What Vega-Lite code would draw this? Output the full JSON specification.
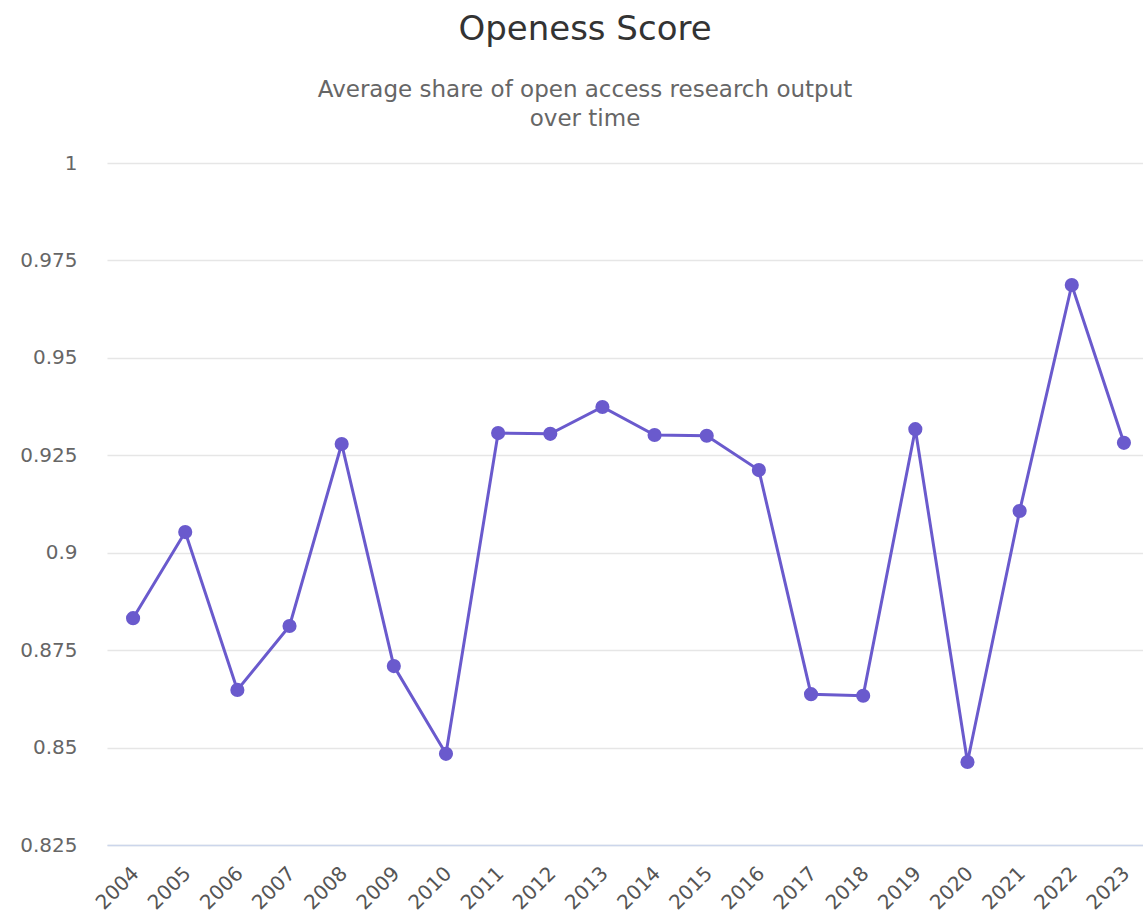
{
  "$schema": "https://vega.github.io/schema/vega-lite/v6.json",
  "width": 1036,
  "height": 682,
  "autosize": {"type": "none"},
  "padding": {"left": 107, "top": 163, "right": 0, "bottom": 71},
  "background": "white",
  "config": {
    "font": "DejaVu Sans",
    "view": {"stroke": null}
  },
  "title": {
    "text": "Openess Score",
    "subtitle": ["Average share of open access research output", "over time"],
    "anchor": "middle",
    "frame": "group",
    "dx": -40,
    "fontSize": 34,
    "fontWeight": "normal",
    "color": "#333333",
    "font": "DejaVu Sans",
    "subtitleFont": "DejaVu Sans",
    "subtitleFontSize": 23,
    "subtitleColor": "#666666",
    "subtitleLineHeight": 29,
    "subtitlePadding": 32,
    "offset": 22
  },
  "data": {
    "values": [
      {"year": "2004", "score": 0.8832},
      {"year": "2005", "score": 0.9053},
      {"year": "2006", "score": 0.8648},
      {"year": "2007", "score": 0.8812},
      {"year": "2008", "score": 0.9279},
      {"year": "2009", "score": 0.8709},
      {"year": "2010", "score": 0.8484},
      {"year": "2011", "score": 0.9307},
      {"year": "2012", "score": 0.9305},
      {"year": "2013", "score": 0.9374},
      {"year": "2014", "score": 0.9302},
      {"year": "2015", "score": 0.93},
      {"year": "2016", "score": 0.9212},
      {"year": "2017", "score": 0.8637},
      {"year": "2018", "score": 0.8633},
      {"year": "2019", "score": 0.9317},
      {"year": "2020", "score": 0.8463},
      {"year": "2021", "score": 0.9107},
      {"year": "2022", "score": 0.9687},
      {"year": "2023", "score": 0.9282}
    ]
  },
  "encoding": {
    "x": {
      "field": "year",
      "type": "ordinal",
      "scale": {"type": "point", "range": [0, 1043]},
      "axis": {
        "title": null,
        "labelAngle": -45,
        "labelAlign": "right",
        "labelBaseline": "top",
        "labelFontSize": 20,
        "labelColor": "#555555",
        "labelPadding": 18,
        "labelOffset": -5,
        "domainColor": "#ccd6eb",
        "domainWidth": 1.5,
        "ticks": false,
        "grid": false
      }
    },
    "y": {
      "field": "score",
      "type": "quantitative",
      "scale": {"domain": [0.825, 1], "nice": false, "zero": false},
      "axis": {
        "title": null,
        "values": [0.825, 0.85, 0.875, 0.9, 0.925, 0.95, 0.975, 1],
        "labelExpr": "format(datum.value, '.3~f')",
        "labelFontSize": 20,
        "labelColor": "#666666",
        "labelPadding": 30,
        "domain": false,
        "ticks": false,
        "gridColor": "#e6e6e6",
        "gridWidth": 1.5
      }
    }
  },
  "layer": [
    {"mark": {"type": "line", "color": "#6a5acd", "strokeWidth": 3}},
    {"mark": {"type": "point", "filled": true, "opacity": 1, "color": "#6a5acd", "size": 200}}
  ]
}
